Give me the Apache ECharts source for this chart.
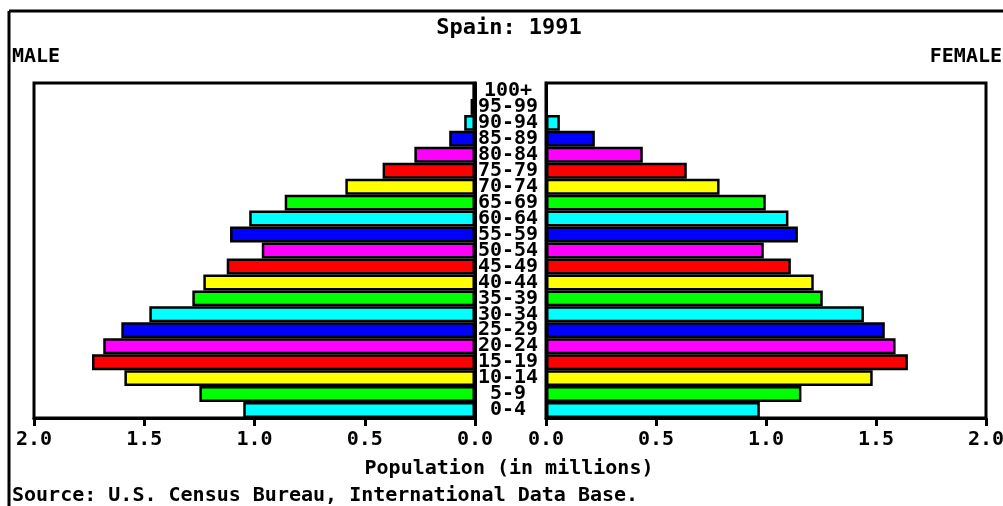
<!DOCTYPE html>
<html>
<head>
<meta charset="utf-8">
<script src="https://cdn.jsdelivr.net/npm/echarts@6/dist/echarts.min.js"></script>
<style>
html,body{margin:0;padding:0;background:#fff;}
#chart{width:1003px;height:506px;}
</style>
</head>
<body>
<div id="chart"></div>
<script>
// Age groups (bottom to top)
const ages = ['0-4','5-9','10-14','15-19','20-24','25-29','30-34','35-39','40-44','45-49','50-54','55-59','60-64','65-69','70-74','75-79','80-84','85-89','90-94','95-99','100+'];
// Population in millions
const male = [1.051,1.250,1.590,1.737,1.686,1.604,1.477,1.282,1.232,1.126,0.967,1.111,1.024,0.863,0.588,0.419,0.275,0.117,0.049,0.020,0.012];
const female = [0.972,1.161,1.485,1.645,1.589,1.540,1.445,1.258,1.217,1.113,0.990,1.145,1.102,0.999,0.789,0.640,0.440,0.222,0.063,0.007,0.002];
const palette = ['#00FFFF','#00FF00','#FFFF00','#FF0000','#FF00FF','#0000FF'];

const FONT = 'DejaVu Sans Mono';
function items(arr){
  return arr.map((v,i)=>({value:v,itemStyle:{color:palette[i%palette.length]}}));
}
const labelStyle = {color:'#000',fontFamily:FONT,fontSize:20,fontWeight:'bold'};

const chart = echarts.init(document.getElementById('chart'),null,{renderer:'canvas'});
const valueAxisCommon = {
  type:'value',min:0,max:2,interval:0.5,
  axisLine:{show:true,lineStyle:{color:'#000',width:3}},
  axisTick:{show:true,length:8,lineStyle:{color:'#000',width:3}},
  splitLine:{show:false},
  axisLabel:Object.assign({margin:12,formatter:v=>v.toFixed(1)},labelStyle)
};
chart.setOption({
  animation:false,
  backgroundColor:'#fff',
  grid:[
    {left:34,top:83,width:441,height:335,containLabel:false,outerBoundsMode:'none',show:true,borderColor:'#000',borderWidth:3,backgroundColor:'#fff'},
    {left:546,top:83,width:440,height:335,containLabel:false,outerBoundsMode:'none',show:true,borderColor:'#000',borderWidth:3,backgroundColor:'#fff'}
  ],
  xAxis:[
    Object.assign({gridIndex:0,inverse:true,position:'bottom'},valueAxisCommon),
    Object.assign({gridIndex:1,position:'bottom'},valueAxisCommon)
  ],
  yAxis:[
    {type:'category',gridIndex:0,data:ages,position:'right',
     axisLine:{show:true,lineStyle:{color:'#000',width:3}},axisTick:{show:false},
     axisLabel:Object.assign({margin:33,align:'center',interval:0},labelStyle)},
    {type:'category',gridIndex:1,data:ages,position:'left',
     axisLine:{show:true,lineStyle:{color:'#000',width:3}},axisTick:{show:false},
     axisLabel:{show:false}}
  ],
  series:[
    {type:'bar',xAxisIndex:0,yAxisIndex:0,data:items(male),barCategoryGap:'0%',
     itemStyle:{borderColor:'#000',borderWidth:2.5}},
    {type:'bar',xAxisIndex:1,yAxisIndex:1,data:items(female),barCategoryGap:'0%',
     itemStyle:{borderColor:'#000',borderWidth:2.5}}
  ],
  graphic:[
    {type:'line',shape:{x1:9,y1:11,x2:1003,y2:11},style:{stroke:'#000',lineWidth:3}},
    {type:'line',shape:{x1:9,y1:11,x2:9,y2:506},style:{stroke:'#000',lineWidth:3}},
    {type:'text',x:509,y:28,style:{text:'Spain: 1991',fill:'#000',font:'bold 22px "'+FONT+'"',textAlign:'center',textVerticalAlign:'middle'}},
    {type:'text',x:12,y:57,style:{text:'MALE',fill:'#000',font:'bold 20px "'+FONT+'"',textAlign:'left',textVerticalAlign:'middle'}},
    {type:'text',x:1002,y:57,style:{text:'FEMALE',fill:'#000',font:'bold 20px "'+FONT+'"',textAlign:'right',textVerticalAlign:'middle'}},
    {type:'text',x:509,y:469,style:{text:'Population (in millions)',fill:'#000',font:'bold 20px "'+FONT+'"',textAlign:'center',textVerticalAlign:'middle'}},
    {type:'text',x:12,y:496,style:{text:'Source: U.S. Census Bureau, International Data Base.',fill:'#000',font:'bold 20px "'+FONT+'"',textAlign:'left',textVerticalAlign:'middle'}}
  ]
});
</script>
</body>
</html>
